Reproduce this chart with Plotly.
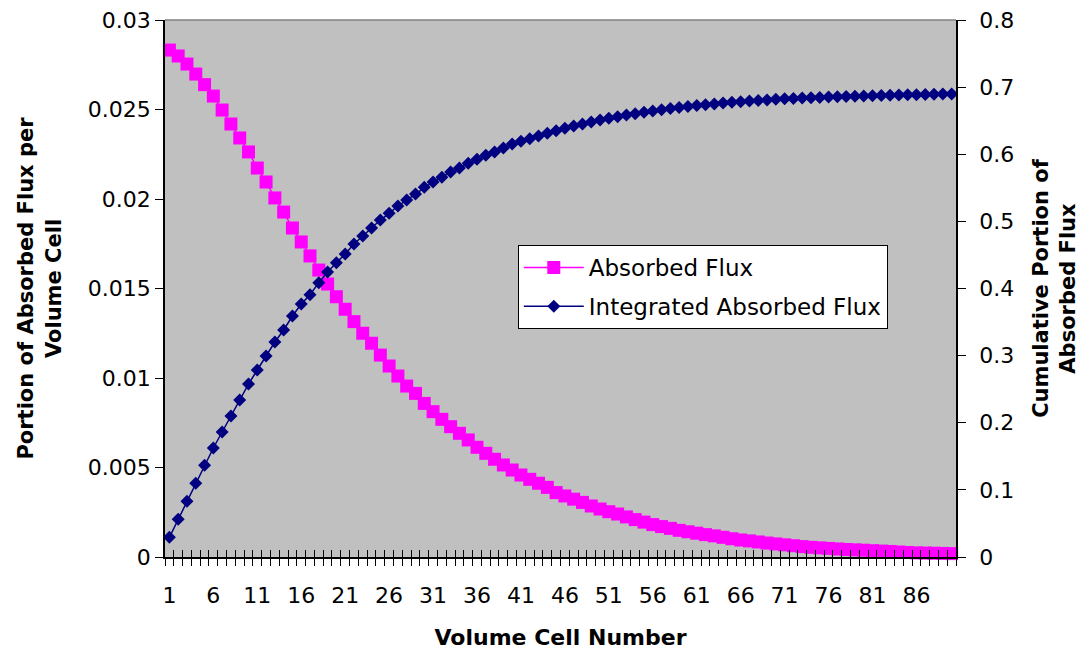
import plotly.graph_objects as go

cells = list(range(1, 91))

absorbed_flux = [
    0.02832, 0.02799, 0.02754, 0.02698, 0.02639, 0.02575, 0.02497, 0.02419, 0.02341, 0.02263,
    0.02173, 0.02095, 0.02006, 0.01927, 0.01838, 0.01760, 0.01682, 0.01603, 0.01525, 0.01454,
    0.01384, 0.01315, 0.01250, 0.01194, 0.01128, 0.01067, 0.01011, 0.00955, 0.00914, 0.00858,
    0.00812, 0.00769, 0.00728, 0.00691, 0.00654, 0.00613, 0.00579, 0.00546, 0.00514, 0.00486,
    0.00458, 0.00434, 0.00412, 0.00389, 0.00360, 0.00341, 0.00323, 0.00305, 0.00285, 0.00268,
    0.00253, 0.00240, 0.00224, 0.00209, 0.00195, 0.00181, 0.00170, 0.00160, 0.00149, 0.00141,
    0.00133, 0.00125, 0.00118, 0.00110, 0.00102, 0.00095, 0.00090, 0.00084, 0.00078, 0.00073,
    0.00068, 0.00063, 0.00058, 0.00054, 0.00051, 0.00048, 0.00045, 0.00042, 0.00040, 0.00038,
    0.00035, 0.00033, 0.00031, 0.00028, 0.00025, 0.00023, 0.00022, 0.00021, 0.00020, 0.00019,
]

integrated_flux = [
    0.0293, 0.0562, 0.0830, 0.1098, 0.1366, 0.1624, 0.1862, 0.2101, 0.2339, 0.2577,
    0.2786, 0.2994, 0.3203, 0.3382, 0.3590, 0.3769, 0.3908, 0.4087, 0.4246, 0.4384,
    0.4514, 0.4663, 0.4782, 0.4901, 0.5020, 0.5120, 0.5229, 0.5318, 0.5408, 0.5508,
    0.5587, 0.5657, 0.5736, 0.5795, 0.5865, 0.5925, 0.5984, 0.6034, 0.6093, 0.6153,
    0.6193, 0.6232, 0.6272, 0.6312, 0.6350, 0.6386, 0.6420, 0.6452, 0.6482, 0.6510,
    0.6536, 0.6560, 0.6583, 0.6605, 0.6626, 0.6645, 0.6663, 0.6680, 0.6696, 0.6711,
    0.6725, 0.6738, 0.6750, 0.6762, 0.6773, 0.6783, 0.6793, 0.6802, 0.6810, 0.6818,
    0.6825, 0.6831, 0.6837, 0.6842, 0.6847, 0.6852, 0.6857, 0.6861, 0.6865, 0.6869,
    0.6872, 0.6876, 0.6879, 0.6882, 0.6885, 0.6888, 0.6891, 0.6893, 0.6896, 0.6898,
]

label_cells = list(range(1, 90, 5))
label_text = [str(c) for c in label_cells]

left_ticks = [0, 0.005, 0.01, 0.015, 0.02, 0.025, 0.03]
left_tick_text = ["0", "0.005", "0.01", "0.015", "0.02", "0.025", "0.03"]
right_ticks = [0, 0.1, 0.2, 0.3, 0.4, 0.5, 0.6, 0.7, 0.8]
right_tick_text = ["0", "0.1", "0.2", "0.3", "0.4", "0.5", "0.6", "0.7", "0.8"]

FONT = "DejaVu Sans"
MAGENTA = "#FF00FF"
NAVY = "#000080"

fig = go.Figure()
fig.add_trace(go.Scatter(
    x=cells, y=absorbed_flux, name="Absorbed Flux", mode="lines+markers",
    legendgroup="a",
    line=dict(color=MAGENTA, width=1.5),
    marker=dict(symbol="square", size=13, color=MAGENTA),
    cliponaxis=False, xaxis="x", yaxis="y",
))
fig.add_trace(go.Scatter(
    x=cells, y=integrated_flux, name="Integrated Absorbed Flux", mode="lines+markers",
    legendgroup="b",
    line=dict(color=NAVY, width=1.5),
    marker=dict(symbol="diamond", size=10, color=NAVY),
    cliponaxis=False, xaxis="x2", yaxis="y2",
))

# page body has an 8px default margin, so the figure is sized/offset to compensate
fig.update_layout(
    width=1078, height=648,
    margin=dict(l=157, r=130, t=12, b=99),
    paper_bgcolor="white", plot_bgcolor="#C0C0C0",
    font=dict(family=FONT, size=22, color="black"),
    showlegend=True,
    legend=dict(
        x=0.446, y=0.581, xanchor="left", yanchor="top",
        bgcolor="white", bordercolor="black", borderwidth=1,
        font=dict(family=FONT, size=23, color="black"),
        tracegroupgap=6, itemwidth=60,
    ),
    xaxis=dict(
        range=[0.5, 90.5], tickmode="array", tickvals=label_cells, ticktext=label_text,
        ticks="outside", ticklen=18, tickcolor="rgba(0,0,0,0)",
        minor=dict(tickmode="linear", tick0=0.5, dtick=1, ticks="outside", ticklen=7,
                   tickcolor="black", tickwidth=1, showgrid=False),
        showline=True, linecolor="black", linewidth=1.5,
        showgrid=False, zeroline=False, automargin=False, ticklabeloverflow="allow",
        title=dict(text="Volume Cell Number", font=dict(family=FONT, size=22, weight="bold"),
                   standoff=22),
        tickfont=dict(family=FONT, size=22),
    ),
    xaxis2=dict(
        range=[0.5, 90.5], overlaying="x", anchor="y2", side="bottom",
        tickmode="linear", tick0=0.5, dtick=1, ticks="inside", ticklen=7,
        tickcolor="black", tickwidth=1, showticklabels=False,
        showline=False, showgrid=False, zeroline=False, automargin=False,
    ),
    yaxis=dict(
        range=[0, 0.03], tickmode="array", tickvals=left_ticks, ticktext=left_tick_text,
        ticks="outside", ticklen=8, tickcolor="black",
        showline=True, linecolor="black", linewidth=1.5,
        showgrid=False, zeroline=False, automargin=False, ticklabeloverflow="allow",
        title=dict(text="Portion of Absorbed Flux per<br>Volume Cell",
                   font=dict(family=FONT, size=21, weight="bold"), standoff=21),
        tickfont=dict(family=FONT, size=22),
    ),
    yaxis2=dict(
        range=[0, 0.8], overlaying="y", side="right", anchor="x2",
        tickmode="array", tickvals=right_ticks, ticktext=right_tick_text,
        ticks="outside", ticklen=8, tickcolor="black", ticklabelstandoff=9,
        showline=True, linecolor="black", linewidth=1.5,
        showgrid=False, zeroline=False, automargin=False, ticklabeloverflow="allow",
        title=dict(text="Cumulative Portion of<br>Absorbed Flux",
                   font=dict(family=FONT, size=21, weight="bold"), standoff=20),
        tickfont=dict(family=FONT, size=22),
    ),
    yaxis3=dict(
        range=[0, 0.8], overlaying="y", side="right", anchor="x",
        tickmode="array", tickvals=right_ticks,
        ticks="inside", ticklen=8, tickcolor="black",
        showticklabels=False, showline=False, showgrid=False, zeroline=False,
        automargin=False,
    ),
    shapes=[dict(type="line", xref="paper", yref="paper", x0=0, x1=1, y0=1, y1=1,
                 line=dict(color="#808080", width=1.5))],
)

fig.write_html("out.html")
